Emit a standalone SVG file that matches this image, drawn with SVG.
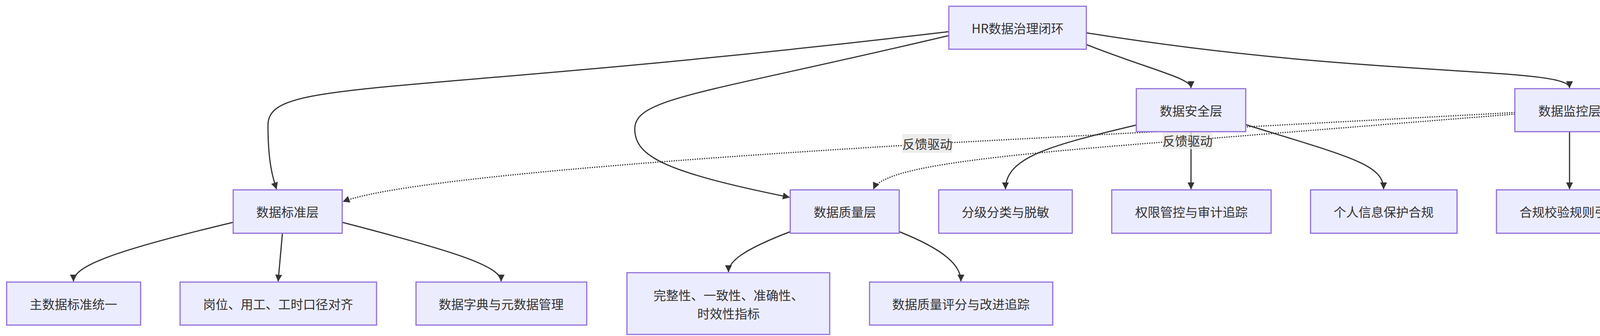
<svg xmlns="http://www.w3.org/2000/svg" width="5174" height="860" viewBox="0 0 5174 860">
<style>
.n rect{fill:#ECECFF;stroke:#9370DB;stroke-width:3}
.n text{font-family:"Noto Sans CJK SC","Liberation Sans",sans-serif;font-size:32px;fill:#333;text-anchor:middle;dominant-baseline:central}
.e{fill:none;stroke:#333;stroke-width:3}
.d{fill:none;stroke:#333;stroke-width:3;stroke-dasharray:3 3}
.lb rect{fill:#e8e8e8;opacity:0.8}
.lb text{font-family:"Noto Sans CJK SC","Liberation Sans",sans-serif;font-size:32px;fill:#333;text-anchor:middle;dominant-baseline:central}
</style>
<defs>
<marker id="a" viewBox="0 0 10 10" refX="9" refY="5" markerWidth="8" markerHeight="8" markerUnits="userSpaceOnUse" orient="auto" style="overflow:visible"><path d="M0,0 L10,5 L0,10 z" fill="#333" transform="scale(2.2) translate(-5.5,-2.7)"/></marker>
</defs>
<rect width="5174" height="860" fill="#fff"/>
<g id="edges">
<path class="e" marker-end="url(#a)" d="M2429,81 C1000,250 686,200 686,320 C686,420 700,460 708,484"/>
<path class="e" marker-end="url(#a)" d="M2429,91 C1800,240 1625,250 1625,330 C1625,400 1700,440 2021,505"/>
<path class="e" marker-end="url(#a)" d="M2781,114 C2950,180 3049,200 3049,225"/>
<path class="e" marker-end="url(#a)" d="M2781,84 C3500,200 4018,170 4018,225"/>
<path class="e" marker-end="url(#a)" d="M2909,320 C2700,370 2574,400 2574,484"/>
<path class="e" marker-end="url(#a)" d="M3049,337 L3049,484"/>
<path class="e" marker-end="url(#a)" d="M3189,319 C3450,400 3542,420 3542,484"/>
<path class="e" marker-end="url(#a)" d="M4018,337 L4018,484"/>
<path class="e" marker-end="url(#a)" d="M4158,322 C4400,400 4478,430 4478,484"/>
<path class="e" marker-end="url(#a)" d="M4158,302 C4700,380 4955,420 4955,484"/>
<path class="e" marker-end="url(#a)" d="M597,569 C300,640 188,680 188,720"/>
<path class="e" marker-end="url(#a)" d="M723,597 L712,720"/>
<path class="e" marker-end="url(#a)" d="M876,569 C1150,640 1283,680 1283,720"/>
<path class="e" marker-end="url(#a)" d="M2023,593 C1900,640 1865,670 1865,696"/>
<path class="e" marker-end="url(#a)" d="M2302,593 C2420,640 2460,680 2460,720"/>
<path class="d" marker-end="url(#a)" d="M3878,288 L2400,367 C1500,420 1000,470 878,516"/>
<path class="d" marker-end="url(#a)" d="M3878,292 L3040,359 C2500,400 2260,430 2236,484"/>
<g class="lb"><rect x="2310" y="343" width="128" height="48"/><text x="2374" y="367">反馈驱动</text></g>
<g class="lb"><rect x="2976" y="336" width="128" height="46"/><text x="3040" y="359">反馈驱动</text></g>
</g>
<g id="root" class="n"><rect x="2429" y="16" width="352" height="110"/><text x="2605" y="71">HR数据治理闭环</text></g>
<g id="security" class="n"><rect x="2909" y="227" width="280" height="110"/><text x="3049" y="282">数据安全层</text></g>
<g id="monitor" class="n"><rect x="3878" y="227" width="280" height="110"/><text x="4018" y="282">数据监控层</text></g>
<g id="standard" class="n"><rect x="597" y="486" width="279" height="111"/><text x="736" y="541">数据标准层</text></g>
<g id="quality" class="n"><rect x="2023" y="486" width="279" height="111"/><text x="2163" y="541">数据质量层</text></g>
<g id="s1" class="n"><rect x="2403" y="486" width="342" height="111"/><text x="2574" y="541">分级分类与脱敏</text></g>
<g id="s2" class="n"><rect x="2846" y="486" width="408" height="111"/><text x="3050" y="541">权限管控与审计追踪</text></g>
<g id="s3" class="n"><rect x="3355" y="486" width="375" height="111"/><text x="3542" y="541">个人信息保护合规</text></g>
<g id="m1" class="n"><rect x="3831" y="486" width="375" height="111"/><text x="4018" y="541">合规校验规则引擎</text></g>
<g id="m2" class="n"><rect x="4307" y="486" width="343" height="111"/><text x="4478" y="541">实时巡检与预警</text></g>
<g id="m3" class="n"><rect x="4751" y="486" width="407" height="111"/><text x="4955" y="541">整改追踪与效果验证</text></g>
<g id="d1" class="n"><rect x="17" y="722" width="343" height="110"/><text x="188" y="777">主数据标准统一</text></g>
<g id="d2" class="n"><rect x="461" y="722" width="503" height="110"/><text x="712" y="777">岗位、用工、工时口径对齐</text></g>
<g id="d3" class="n"><rect x="1065" y="722" width="437" height="110"/><text x="1283" y="777">数据字典与元数据管理</text></g>
<g id="q1" class="n"><rect x="1605" y="698" width="519" height="158"/><text x="1865" y="754">完整性、一致性、准确性、</text><text x="1865" y="801">时效性指标</text></g>
<g id="q2" class="n"><rect x="2226" y="722" width="469" height="110"/><text x="2460" y="777">数据质量评分与改进追踪</text></g>
</svg>
